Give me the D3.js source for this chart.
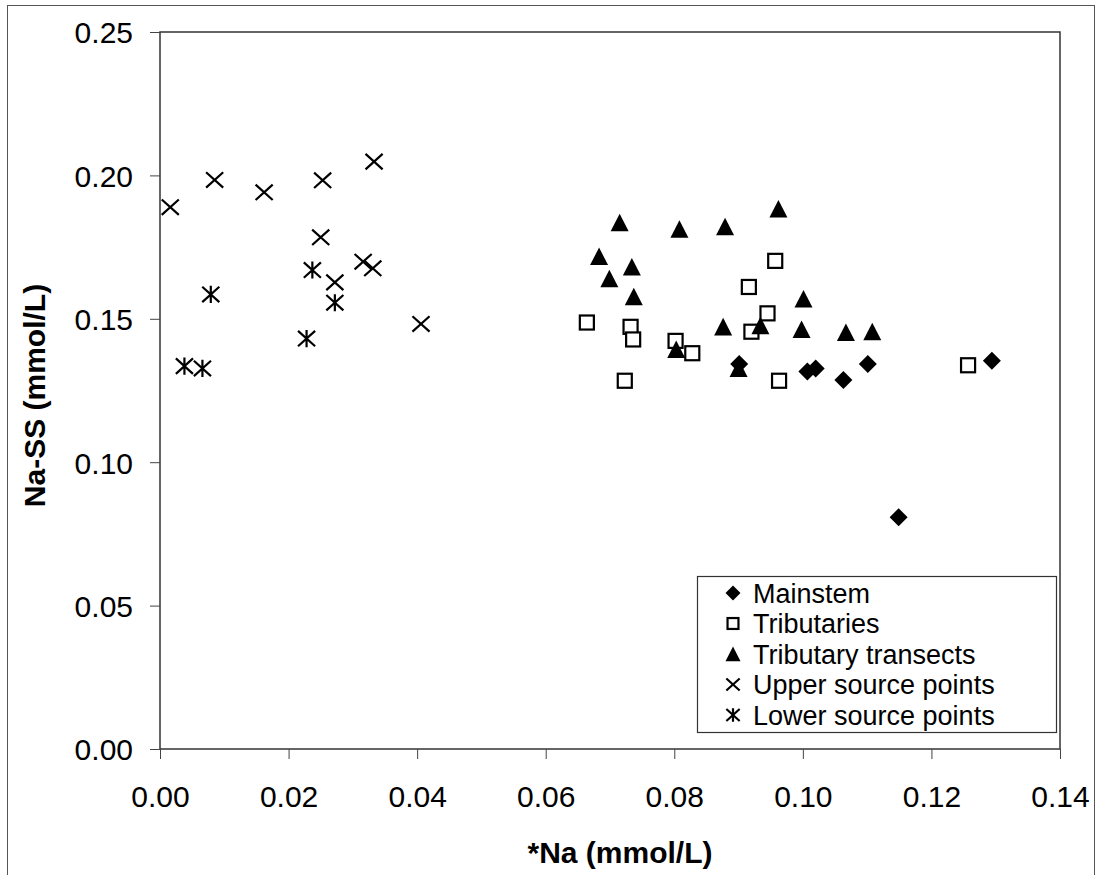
<!DOCTYPE html>
<html>
<head>
<meta charset="utf-8">
<script src="https://cdn.jsdelivr.net/npm/d3@7"></script>
<style>
html,body{margin:0;padding:0;background:#fff;}
svg{display:block;}
text{font-family:"Liberation Sans",Arial,Helvetica,sans-serif;fill:#000;}
</style>
</head>
<body>
<svg id="chart" width="1096" height="875"></svg>
<script>
// ---- data ----
const xTicks = [0.00, 0.02, 0.04, 0.06, 0.08, 0.10, 0.12, 0.14];
const yTicks = [0.00, 0.05, 0.10, 0.15, 0.20, 0.25];

const mainstemX = [0.0901, 0.1007, 0.1020, 0.1063, 0.1101, 0.1294, 0.1149];
const mainstemY = [0.1342, 0.1316, 0.1327, 0.1287, 0.1342, 0.1354, 0.0808];

const tribX = [0.0664, 0.0732, 0.0736, 0.0802, 0.0828, 0.0723, 0.0957, 0.0916, 0.0945, 0.0920, 0.0963, 0.1257];
const tribY = [0.1487, 0.1472, 0.1428, 0.1423, 0.1380, 0.1284, 0.1702, 0.1611, 0.1519, 0.1455, 0.1284, 0.1338];

const transX = [0.0715, 0.0808, 0.0879, 0.0962, 0.0683, 0.0734, 0.0699, 0.0737, 0.1001, 0.0876, 0.0934, 0.0998, 0.1067, 0.1108, 0.0803, 0.0900];
const transY = [0.1835, 0.1812, 0.1821, 0.1883, 0.1717, 0.1681, 0.1640, 0.1577, 0.1569, 0.1472, 0.1476, 0.1463, 0.1452, 0.1455, 0.1393, 0.1327];

const upperX = [0.0016, 0.0085, 0.0162, 0.0253, 0.0333, 0.0250, 0.0272, 0.0316, 0.0331, 0.0406];
const upperY = [0.1889, 0.1984, 0.1941, 0.1983, 0.2048, 0.1784, 0.1627, 0.1699, 0.1676, 0.1482];

const lowerX = [0.0038, 0.0066, 0.0079, 0.0237, 0.0272, 0.0228];
const lowerY = [0.1335, 0.1327, 0.1585, 0.1670, 0.1556, 0.1431];

const seriesNames = ["Mainstem", "Tributaries", "Tributary transects", "Upper source points", "Lower source points"];
const seriesShapes = ["diamond", "square", "triangle", "cross", "asterisk"];
const xTitle = "*Na (mmol/L)";
const yTitle = "Na-SS (mmol/L)";

// ---- layout ----
const svg = d3.select("#chart");
const L = 160, R = 1060, T = 32, B = 749;
const x = d3.scaleLinear().domain([0, 0.14]).range([L, R]);
const y = d3.scaleLinear().domain([0, 0.25]).range([B, T]);

// outer chart border
svg.append("rect").attr("x", 7.5).attr("y", 5.5).attr("width", 1087).attr("height", 880)
  .attr("fill", "none").attr("stroke", "#555").attr("stroke-width", 1);

// plot area
svg.append("rect").attr("x", L).attr("y", T).attr("width", R - L).attr("height", B - T)
  .attr("fill", "#fff").attr("stroke", "#333").attr("stroke-width", 1.5);

// axes
const xAxis = d3.axisBottom(x).tickValues(xTicks).tickSize(10).tickPadding(12).tickFormat(d3.format(".2f"));
const gx = svg.append("g").attr("transform", `translate(0,${B})`).call(xAxis);
gx.select(".domain").remove();
gx.selectAll("line").attr("stroke", "#444");
gx.selectAll("text").style("font-size", "30px").attr("dy", null).attr("y", 58);

const yAxis = d3.axisLeft(y).tickValues(yTicks).tickSize(10).tickPadding(17).tickFormat(d3.format(".2f"));
const gy = svg.append("g").attr("transform", `translate(${L},0)`).call(yAxis);
gy.select(".domain").remove();
gy.selectAll("line").attr("stroke", "#444");
gy.selectAll("text").style("font-size", "30px").attr("dy", "0.36em");

// titles
svg.append("text").attr("x", (L + R) / 2 + 10).attr("y", 863).attr("text-anchor", "middle")
  .style("font-size", "30px").style("font-weight", "bold").text(xTitle);
svg.append("text").attr("transform", `translate(45,${(T + B) / 2 + 5}) rotate(-90)`).attr("text-anchor", "middle")
  .style("font-size", "30px").style("font-weight", "bold").text(yTitle);

// marker drawing
function drawMarker(g, shape, cx, cy, s) {
  const h = s / 2;
  if (shape === "diamond") {
    g.append("path").attr("d", `M${cx},${cy - h}L${cx + h},${cy}L${cx},${cy + h}L${cx - h},${cy}Z`).attr("fill", "#000");
  } else if (shape === "square") {
    const a = h * 0.78;
    g.append("rect").attr("x", cx - a).attr("y", cy - a).attr("width", 2 * a).attr("height", 2 * a)
      .attr("fill", "#fff").attr("stroke", "#000").attr("stroke-width", 2.2);
  } else if (shape === "triangle") {
    g.append("path").attr("d", `M${cx},${cy - h}L${cx + h},${cy + h * 0.95}L${cx - h},${cy + h * 0.95}Z`).attr("fill", "#000");
  } else if (shape === "cross" || shape === "asterisk") {
    const a = h * 0.95;
    let d = `M${cx - a},${cy - a * 0.9}L${cx + a},${cy + a * 0.9}M${cx - a},${cy + a * 0.9}L${cx + a},${cy - a * 0.9}`;
    if (shape === "asterisk") d += `M${cx},${cy - a}L${cx},${cy + a}`;
    g.append("path").attr("d", d).attr("fill", "none").attr("stroke", "#000").attr("stroke-width", 2.2);
  }
}

const seriesData = [
  [mainstemX, mainstemY],
  [tribX, tribY],
  [transX, transY],
  [upperX, upperY],
  [lowerX, lowerY]
];
const markSize = [18, 18, 18, 18, 18];
const drawOrder = [1, 2, 0, 3, 4];
const gm = svg.append("g");
drawOrder.forEach(si => {
  const [xs, ys] = seriesData[si];
  xs.forEach((v, i) => drawMarker(gm, seriesShapes[si], x(v), y(ys[i]), markSize[si]));
});

// legend
const lg = svg.append("g");
lg.append("rect").attr("x", 697.5).attr("y", 576.5).attr("width", 359).attr("height", 156)
  .attr("fill", "#fff").attr("stroke", "#333").attr("stroke-width", 1.2);
const legSizes = [15, 14, 15, 14, 14];
seriesNames.forEach((n, i) => {
  const cy = 593 + i * 30.5;
  drawMarker(lg, seriesShapes[i], 733, cy, legSizes[i]);
  lg.append("text").attr("x", 753).attr("y", cy).attr("dy", "0.36em").style("font-size", "27px").text(n);
});
</script>
</body>
</html>
